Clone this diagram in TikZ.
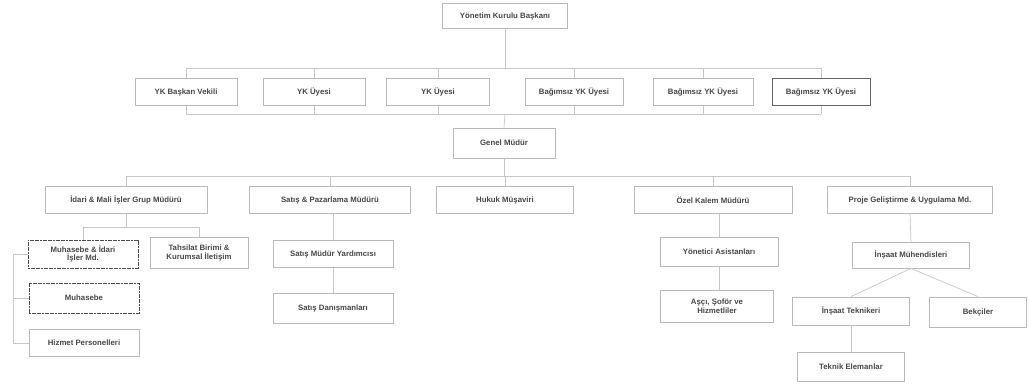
\documentclass[tikz,border=0pt]{standalone}
\usepackage{fontspec}
\setmainfont{Liberation Sans}
\begin{document}
\begin{tikzpicture}[x=1pt,y=-1pt,
  box/.style={draw=gray!55,line width=0.8pt,fill=white,inner sep=1pt,
    font=\fontsize{7.8}{8.8}\selectfont\bfseries,text=black!72,align=center,
    minimum height=27pt},
  darkbox/.style={box,draw=black!70,dash pattern=on 2pt off 0.6pt},
  link/.style={draw=gray!45,line width=0.7pt}]
\useasboundingbox (0,0) rectangle (1029,389);
% top
\node[box,minimum width=125pt,minimum height=25pt] (top) at (505,16) {Yönetim Kurulu Başkanı};
% row 2
\node[box,minimum width=102pt] (a1) at (186,92) {YK Başkan Vekili};
\node[box,minimum width=102pt] (a2) at (314,92) {YK Üyesi};
\node[box,minimum width=103pt] (a3) at (438,92) {YK Üyesi};
\node[box,minimum width=98pt] (a4) at (574,92) {Bağımsız YK Üyesi};
\node[box,minimum width=100pt] (a5) at (703,92) {Bağımsız YK Üyesi};
\node[box,draw=black!60,minimum width=98pt] (a6) at (821,92) {Bağımsız YK Üyesi};
% general manager
\node[box,minimum width=102pt,minimum height=30pt] (gm) at (504,143) {Genel Müdür};
% row 3
\node[box,minimum width=162pt] (b1) at (126,200) {İdari \& Mali İşler Grup Müdürü};
\node[box,minimum width=161pt] (b2) at (330,200) {Satış \& Pazarlama Müdürü};
\node[box,minimum width=137pt] (b3) at (505,200) {Hukuk Müşaviri};
\node[box,minimum width=158pt] (b4) at (713,200) {Özel Kalem Müdürü};
\node[box,minimum width=165pt] (b5) at (910,200) {Proje Geliştirme \& Uygulama Md.};
% level 4 left
\node[darkbox,minimum width=110pt,minimum height=28pt] (c1) at (83,254) {Muhasebe \& İdari\\İşler Md.};
\node[box,minimum width=98pt,minimum height=31pt] (c2) at (199,253) {Tahsilat Birimi \&\\Kurumsal İletişim};
\node[darkbox,minimum width=110pt,minimum height=30pt] (c3) at (84,298) {Muhasebe};
\node[box,minimum width=110pt] (c4) at (84,343) {Hizmet Personelleri};
% sales
\node[box,minimum width=120pt] (d1) at (333,254) {Satış Müdür Yardımcısı};
\node[box,minimum width=120pt,minimum height=30pt] (d2) at (333,308) {Satış Danışmanları};
% private office
\node[box,minimum width=118pt,minimum height=29pt] (e1) at (719,252) {Yönetici Asistanları};
\node[box,minimum width=113pt,minimum height=32pt] (e2) at (717,306) {Aşçı, Şoför ve\\Hizmetliler};
% project
\node[box,minimum width=117pt,minimum height=26pt] (f1) at (911,255) {İnşaat Mühendisleri};
\node[box,minimum width=117pt,minimum height=28pt] (f2) at (851,311) {İnşaat Teknikeri};
\node[box,minimum width=97pt,minimum height=30pt] (f3) at (978,312) {Bekçiler};
\node[box,minimum width=107pt,minimum height=29pt] (f4) at (851,367) {Teknik Elemanlar};
% bus coordinates
\coordinate (bus1) at (505,68);
\coordinate (bus2) at (505,114);
\coordinate (bus3) at (504,176);
\coordinate (bus4) at (126,227);
\coordinate (lft) at (13,254);
% connectors
\draw[link] (top.south) -- (bus1);
\draw[link] (a1.north |- bus1) -- (a6.north |- bus1);
\foreach \n in {a1,a2,a3,a4,a5,a6} {
  \draw[link] (\n.north |- bus1) -- (\n.north);
  \draw[link] (\n.south) -- (\n.south |- bus2);
}
\draw[link] (a1.south |- bus2) -- (a6.south |- bus2);
\draw[link] (bus2) -- (gm.north);
\draw[link] (gm.south) -- (bus3);
\draw[link] (b1.north |- bus3) -- (b5.north |- bus3);
\foreach \n in {b1,b2,b3,b4,b5} \draw[link] (\n.north |- bus3) -- (\n.north);
\draw[link] (b1.south) -- (bus4);
\draw[link] (c1.north |- bus4) -- (c2.north |- bus4);
\draw[link] (c1.north |- bus4) -- (c1.north);
\draw[link] (c2.north |- bus4) -- (c2.north);
\draw[link] (c1.west) -- (lft) |- (c4.west);
\draw[link] (lft |- c3.west) -- (c3.west);
\draw[link] (b2.south -| d1.north) -- (d1.north);
\draw[link] (d1.south) -- (d2.north);
\draw[link] (b4.south -| e1.north) -- (e1.north);
\draw[link] (e1.south) -- (e2.north -| e1.south);
\draw[link] (b5.south) -- (f1.north);
\draw[link] (f1.south) -- (f2.north);
\draw[link] (f1.south) -- (f3.north);
\draw[link] (f2.south) -- (f4.north);
\end{tikzpicture}
\end{document}
